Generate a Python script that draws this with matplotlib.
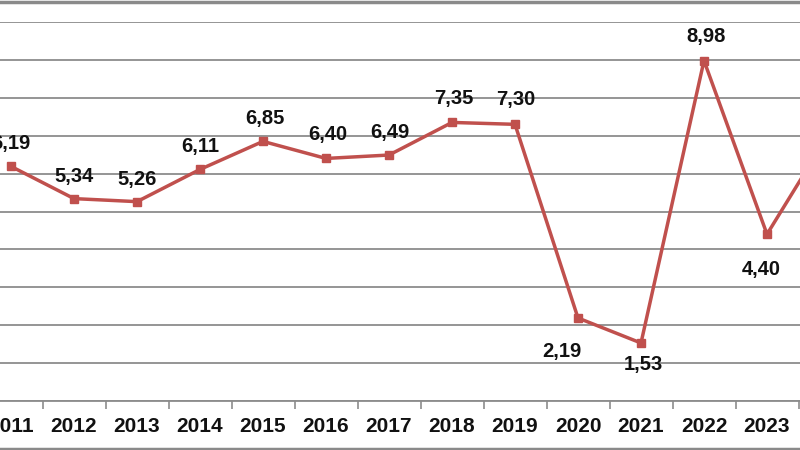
import matplotlib
matplotlib.use("Agg")
import matplotlib.pyplot as plt
from matplotlib.lines import Line2D
import numpy as np

years = ["2011", "2012", "2013", "2014", "2015", "2016", "2017", "2018",
         "2019", "2020", "2021", "2022", "2023", "2024"]
values = [6.19, 5.34, 5.26, 6.11, 6.85, 6.40, 6.49, 7.35, 7.30, 2.19, 1.53, 8.98, 4.40, 7.10]
labels = ["6,19", "5,34", "5,26", "6,11", "6,85", "6,40", "6,49", "7,35",
          "7,30", "2,19", "1,53", "8,98", "4,40", "7,10"]
# label offsets in pixels (dx, dy)
offsets = [(0, 23), (0, 22), (0, 22), (0, 23), (2, 23), (2, 24), (1, 23), (2, 24),
           (1, 25), (-16, -34), (2, -21), (2, 24), (-6, -35), (0, 23)]

plt.rcParams['font.family'] = ['Liberation Sans', 'DejaVu Sans']

fig = plt.figure(figsize=(8, 4.5), dpi=100)
ax = fig.add_axes([0, (450 - 401) / 450, 1, (401 - 22) / 450])

x = np.arange(len(years))

grid_c = "#8c8c8c"
ax.set_yticks(np.arange(0, 11, 1))
ax.yaxis.grid(True, color=grid_c, linewidth=1.3)
ax.set_axisbelow(True)
ax.tick_params(axis='y', left=False, labelleft=False)

for s in ["left", "right", "top"]:
    ax.spines[s].set_visible(False)
ax.spines["bottom"].set_color(grid_c)
ax.spines["bottom"].set_linewidth(1.3)

ax.set_xticks(x)
ax.set_xticklabels(years, fontsize=15, fontweight='bold', color='#111111')
ax.tick_params(axis='x', length=0, pad=11.5)
ax.set_xticks(x[:-1] + 0.5, minor=True)
ax.tick_params(axis='x', which='minor', length=6, color=grid_c, width=1.2)

ax.plot(x, values, color="#C0504D", linewidth=2.5, marker="s", markersize=6,
        markerfacecolor="#C0504D", markeredgecolor="#C0504D", clip_on=True)

for xi, v, lab, (dx, dy) in zip(x, values, labels, offsets):
    ax.annotate(lab, (xi, v), xytext=(dx * 0.72, dy * 0.72), textcoords='offset points',
                ha='center', va='center', fontsize=14.5, fontweight='bold', color='#111111',
                annotation_clip=True)

ax.set_xlim(-11 / 63, (800 - 11) / 63)
ax.set_ylim(0, 10)

# outer frame lines (top and bottom)
fig.add_artist(Line2D([0, 1], [1 - 1.5 / 450, 1 - 1.5 / 450], color="#8a8a8a", linewidth=2.5,
                      transform=fig.transFigure))
fig.add_artist(Line2D([0, 1], [1.5 / 450, 1.5 / 450], color="#8a8a8a", linewidth=2.5,
                      transform=fig.transFigure))

fig.savefig("out.png", dpi=100)
